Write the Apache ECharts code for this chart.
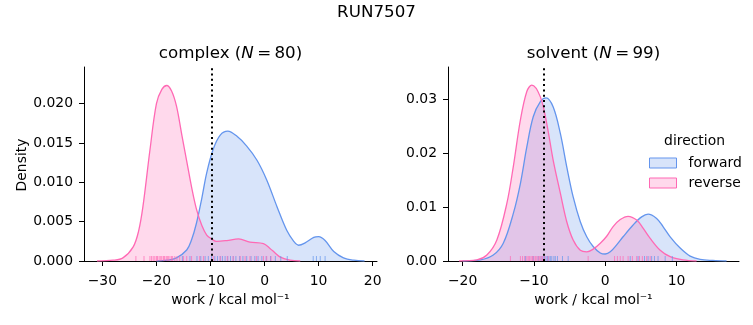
<!DOCTYPE html>
<html>
<head>
<meta charset="utf-8">
<script src="https://cdn.jsdelivr.net/npm/echarts@6/dist/echarts.min.js"></script>
<style>
html,body{margin:0;padding:0;background:#fff;}
#chart{width:753px;height:325px;}
</style>
</head>
<body>
<div id="chart"></div>
<script>
// ---------- data ----------
var suptitle = 'RUN7507';
var panelNames = ['complex', 'solvent'];
var panelN = [80, 99];
var seriesNames = ['forward', 'reverse'];

// KDE curve samples: complex (left) panel
var complexForwardX = [-20, -18, -16.3, -14.4, -13.5, -12.6, -11.6, -10.7, -9.5, -8.2, -6.8, -5.2, -3.3, -1.4, 0.4, 2.3, 4.1, 5.4, 6.3, 7.5, 9.1, 10.0, 11.2, 12.8, 14.6, 16.5, 18.5];
var complexForwardY = [0, 0.0001, 0.0004, 0.0014, 0.0027, 0.0048, 0.0080, 0.0112, 0.0142, 0.0160, 0.0165, 0.0159, 0.0146, 0.0128, 0.0103, 0.0069, 0.0039, 0.0025, 0.0020, 0.0023, 0.0030, 0.0031, 0.0026, 0.0012, 0.0004, 0.0001, 0];
var complexReverseX = [-31, -28, -26.2, -24.3, -23.3, -22.5, -21.2, -20.0, -19.0, -18.1, -17.2, -16.3, -15.3, -14.4, -13.5, -12.6, -11.6, -10.7, -9.8, -8.9, -7.0, -4.8, -2.7, -0.2, 1.0, 2.0, 2.9, 4.7, 6.6];
var complexReverseY = [0, 0.0001, 0.0004, 0.0018, 0.0038, 0.0069, 0.0141, 0.0200, 0.0218, 0.0223, 0.0216, 0.0197, 0.0160, 0.0127, 0.0094, 0.0066, 0.0045, 0.0033, 0.0028, 0.0025, 0.0026, 0.0028, 0.0024, 0.0022, 0.0016, 0.0010, 0.0005, 0.0001, 0];

// KDE curve samples: solvent (right) panel
var solventForwardX = [-20, -17.5, -15.7, -14.3, -12.9, -11.9, -11.0, -10.1, -9.1, -8.3, -7.3, -6.3, -5.4, -4.5, -3.5, -2.6, -1.7, -0.7, 0.0, 0.7, 1.6, 2.5, 3.9, 5.1, 6.0, 7.2, 8.1, 9.1, 10.5, 11.9, 13.3, 15.1, 17];
var solventForwardY = [0, 0.0002, 0.0011, 0.0033, 0.0088, 0.0144, 0.0212, 0.0268, 0.0296, 0.0303, 0.0286, 0.0237, 0.0175, 0.0119, 0.0073, 0.0045, 0.0027, 0.0015, 0.0013, 0.0017, 0.0030, 0.0045, 0.0067, 0.0082, 0.0087, 0.0079, 0.0064, 0.0045, 0.0024, 0.0009, 0.0003, 0.0001, 0];
var solventReverseX = [-20.5, -18, -16.6, -15.2, -13.8, -12.9, -11.9, -11.0, -10.3, -9.1, -8.2, -7.3, -6.3, -5.4, -4.5, -3.5, -2.6, -1.7, -0.7, 0.2, 1.1, 2.1, 3.2, 4.4, 5.3, 6.3, 7.7, 9.1, 10.9, 12.8];
var solventReverseY = [0, 0.0002, 0.0011, 0.0039, 0.0107, 0.0175, 0.0262, 0.0315, 0.0327, 0.0305, 0.0255, 0.0187, 0.0126, 0.0073, 0.0039, 0.0020, 0.0017, 0.0022, 0.0033, 0.0046, 0.0064, 0.0077, 0.0083, 0.0076, 0.0061, 0.0042, 0.0020, 0.0008, 0.0002, 0];

// rug (individual work values)
var complexForwardRug = [-15.2, -13.8, -12.5, -11.8, -11.0, -10.4, -9.8, -9.2, -8.7, -8.2, -7.8, -7.3, -6.8, -6.3, -5.8, -5.3, -4.6, -4.0, -3.3, -2.5, -1.8, -1.2, -0.5, 0.3, 1.1, 2.0, 3.0, 4.2, 9.0, 9.6, 10.3, 11.2];
var complexReverseRug = [-23.8, -22.3, -21.2, -20.9, -20.6, -20.3, -20.0, -19.8, -19.5, -19.2, -19.0, -18.7, -18.5, -18.2, -18.0, -17.8, -17.5, -17.2, -17.0, -16.6, -16.2, -15.7, -15.0, -14.4, -13.5, -12.0, -11.3, -9.5, -8.2, -6.9, -5.8, -4.5, -3.6, -2.7, -1.5, -0.2, 0.4, 1.2];
var solventForwardRug = [-11.2, -10.1, -9.4, -9.0, -8.7, -8.5, -8.3, -8.1, -7.9, -7.7, -7.5, -7.2, -7.0, -6.7, -6.0, -5.2, 3.5, 4.6, 5.5, 6.0, 6.5, 6.9, 7.4, 8.4, 9.4];
var solventReverseRug = [-13.3, -11.9, -11.6, -11.3, -11.0, -10.8, -10.6, -10.4, -10.2, -10.0, -9.8, -9.6, -9.4, -9.2, -9.0, -8.8, -8.5, -8.0, -2.4, 1.3, 1.7, 2.1, 2.5, 3.2, 3.8, 4.4, 4.8, 5.2, 5.8, 6.3];

// dotted vertical reference lines
var vlines = [-9.7, -8.6];

// tick labels
var complexXTicks = [-30, -20, -10, 0, 10, 20];
var complexYTicks = [0, 0.005, 0.010, 0.015, 0.020];
var solventXTicks = [-20, -10, 0, 10];
var solventYTicks = [0, 0.01, 0.02, 0.03];

// ---------- styling ----------
var FONT = 'DejaVu Sans';
var colors = {forward: '#6495ED', reverse: '#FF69B4'};
var fills = {forward: 'rgba(100,149,237,0.25)', reverse: 'rgba(255,105,180,0.25)'};

function pairs(xs, ys) { return xs.map(function (x, i) { return [x, ys[i]]; }); }
function minusFmt(v) { return (v < 0 ? '\u2212' : '') + Math.abs(v); }

var grids = [
  {left: 84, top: 67, width: 293, height: 194},
  {left: 448, top: 67, width: 291, height: 194}
];
var xRanges = [[-33.4, 20.8], [-22.05, 18.75]];
var yRanges = [[0, 0.02465], [0, 0.03605]];
var xTicks = [complexXTicks, solventXTicks];
var yTicks = [complexYTicks, solventYTicks];
var yDec = [3, 2];

var xAxes = [], yAxes = [];
for (var g = 0; g < 2; g++) {
  xAxes.push({
    type: 'value', gridIndex: g, min: xRanges[g][0], max: xRanges[g][1],
    axisLine: {show: true, onZero: false, lineStyle: {color: '#000', width: 1}},
    axisTick: {show: true, length: 5, lineStyle: {color: '#000', width: 1}, customValues: xTicks[g]},
    axisLabel: {show: true, margin: 13, color: '#000', fontFamily: FONT, fontSize: 13.9, customValues: xTicks[g], formatter: minusFmt},
    splitLine: {show: false}
  });
  (function (dec) {
    yAxes.push({
      type: 'value', gridIndex: g, min: yRanges[g][0], max: yRanges[g][1],
      axisLine: {show: true, onZero: false, lineStyle: {color: '#000', width: 1}},
      axisTick: {show: true, length: 5, lineStyle: {color: '#000', width: 1}, customValues: yTicks[g]},
      axisLabel: {show: true, margin: 11, color: '#000', fontFamily: FONT, fontSize: 13.9, customValues: yTicks[g], formatter: function (v) { return v.toFixed(dec); }},
      splitLine: {show: false}
    });
  })(yDec[g]);
}

var curveData = [
  {forward: pairs(complexForwardX, complexForwardY), reverse: pairs(complexReverseX, complexReverseY)},
  {forward: pairs(solventForwardX, solventForwardY), reverse: pairs(solventReverseX, solventReverseY)}
];
var rugData = [
  {forward: complexForwardRug, reverse: complexReverseRug},
  {forward: solventForwardRug, reverse: solventReverseRug}
];

var series = [];
for (var p = 0; p < 2; p++) {
  seriesNames.forEach(function (name) {
    series.push({
      name: name, type: 'line', xAxisIndex: p, yAxisIndex: p,
      data: curveData[p][name], smooth: 0.35, showSymbol: false, symbol: 'none',
      lineStyle: {color: colors[name], width: 1.3},
      itemStyle: {color: colors[name]},
      areaStyle: {color: fills[name], origin: 'start', opacity: 1},
      silent: true, z: 2
    });
  });
  seriesNames.forEach(function (name) {
    var col = colors[name];
    series.push({
      type: 'custom', xAxisIndex: p, yAxisIndex: p, silent: true, z: 3,
      data: rugData[p][name].map(function (v) { return [v]; }),
      renderItem: function (params, api) {
        var pt = api.coord([api.value(0), 0]);
        return {type: 'line', shape: {x1: pt[0], y1: pt[1], x2: pt[0], y2: pt[1] - 5},
          style: {stroke: col, lineWidth: 1, opacity: 0.7}};
      }
    });
  });
  series.push({
    type: 'line', xAxisIndex: p, yAxisIndex: p, data: [], silent: true, z: 4,
    markLine: {
      silent: true, symbol: 'none', label: {show: false},
      lineStyle: {color: '#000', width: 2, type: [2, 3.3], opacity: 1},
      emphasis: {disabled: true},
      data: [{xAxis: vlines[p]}]
    }
  });
}

var titleRich = {
  a: {fontFamily: FONT, fontSize: 16.7, fill: '#000'},
  i: {fontFamily: FONT, fontSize: 16.7, fontStyle: 'italic', fill: '#000'}
};
var graphics = [
  {type: 'text', x: 376.5, y: 12.5, style: {text: suptitle, fontFamily: FONT, fontSize: 16.7, fill: '#000', align: 'center', verticalAlign: 'middle'}},
  {type: 'text', x: 22, y: 165, rotation: Math.PI / 2, style: {text: 'Density', fontFamily: FONT, fontSize: 13.9, fill: '#000', align: 'center', verticalAlign: 'middle'}},
  {type: 'text', x: 694.5, y: 141, style: {text: 'direction', fontFamily: FONT, fontSize: 13.9, fill: '#000', align: 'center', verticalAlign: 'middle'}}
];
for (var q = 0; q < 2; q++) {
  var cx = grids[q].left + grids[q].width / 2;
  graphics.push({type: 'text', x: cx, y: 54, style: {
    text: '{a|' + panelNames[q] + ' (}{i|N}{a|\u2009=\u200980)}'.replace('80', panelN[q]),
    rich: titleRich, align: 'center', verticalAlign: 'middle', fontFamily: FONT, fontSize: 16.7}});
  graphics.push({type: 'text', x: cx, y: 300, style: {
    text: 'work / kcal mol\u207B\u00B9', fontFamily: FONT, fontSize: 13.9, fill: '#000', align: 'center', verticalAlign: 'middle'}});
}

var chart = echarts.init(document.getElementById('chart'), null, {renderer: 'canvas'});
chart.setOption({
  animation: false,
  backgroundColor: '#fff',
  grid: grids.map(function (gd) { return Object.assign({containLabel: false, outerBoundsMode: 'none'}, gd); }),
  xAxis: xAxes,
  yAxis: yAxes,
  legend: {
    orient: 'vertical', left: 649, top: 156, padding: 0, itemWidth: 27, itemHeight: 10, itemGap: 6,
    selectedMode: false,
    textStyle: {fontFamily: FONT, fontSize: 13.9, color: '#000', padding: [0, 0, 0, 7]},
    data: seriesNames.map(function (n) {
      return {name: n, icon: 'rect', itemStyle: {color: fills[n], borderColor: colors[n], borderWidth: 1}};
    })
  },
  graphic: graphics,
  series: series
});
</script>
</body>
</html>
